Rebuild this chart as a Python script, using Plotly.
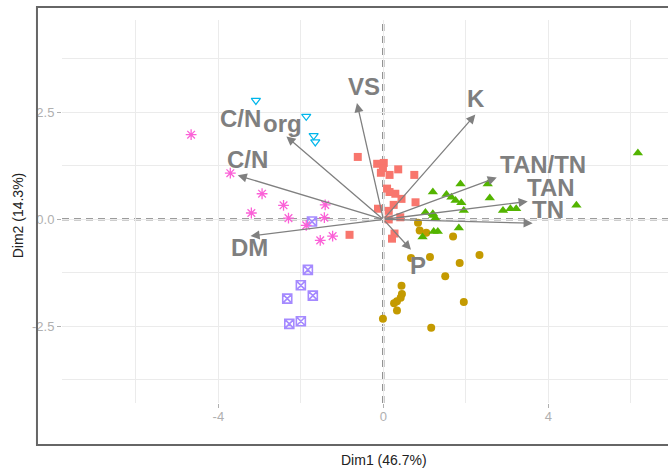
import plotly.graph_objects as go

# ---- individuals (PCA scores) per group ----
red_x = [-0.62, -0.15, 0.01, -0.01, -0.06, 0.15, 0.36, 0.75, 0.09, 0.15, 0.29, 0.44, 0.25, 0.78, -0.13, 0.13, 0.13, 0.41, -0.82, 0.27, 0.21]
red_y = [1.46, 1.30, 1.32, 1.20, 1.09, 1.04, 1.17, 1.04, 0.72, 0.64, 0.60, 0.48, 0.34, 0.40, 0.25, 0.20, 0.00, 0.05, -0.36, -0.33, -0.45]

gold_x = [0.84, 0.88, 1.04, 1.69, 0.67, 1.13, 1.85, 2.33, 1.50, 0.44, 0.45, 0.42, 0.33, 0.26, 0.33, 1.95, -0.01, 1.16]
gold_y = [-0.08, -0.26, -0.31, -0.40, -0.90, -0.88, -1.02, -0.83, -1.33, -1.55, -1.74, -1.83, -1.91, -1.96, -2.13, -1.93, -2.32, -2.53]

green_x = [1.87, 2.53, 1.20, 1.53, 1.65, 1.75, 1.89, 2.58, 1.02, 1.20, 1.95, 1.26, 2.90, 3.08, 3.22, 1.83, 0.95, 1.22, 1.32, 6.17, 4.68, 1.21]
green_y = [0.83, 0.83, 0.64, 0.58, 0.52, 0.44, 0.39, 0.50, 0.16, 0.13, 0.21, 0.03, 0.21, 0.25, 0.25, -0.20, -0.41, -0.28, -0.28, 1.55, 0.33, 0.09]

cyan_x = [-3.09, -1.87, -1.69, -1.65]
cyan_y = [2.78, 2.41, 1.96, 1.81]

purple_x = [-1.83, -2.00, -1.71, -2.33, -2.28, -2.00, -1.73]
purple_y = [-1.18, -1.54, -1.78, -1.85, -2.44, -2.38, -0.05]

magenta_x = [-4.66, -3.71, -2.94, -2.42, -3.20, -2.30, -1.41, -1.43, -1.87, -1.53, -1.23]
magenta_y = [1.98, 1.08, 0.60, 0.33, 0.15, 0.03, 0.34, 0.04, -0.14, -0.49, -0.39]

# ---- variables (loadings arrows) ----
var_names = ["VS", "K", "TAN/TN", "TAN", "TN", "P", "C/N_org", "C/N", "DM"]
var_x = [-0.64, 2.23, 2.75, 3.50, 3.62, 0.67, -2.35, -3.53, -3.22]
var_y = [2.72, 2.45, 0.98, 0.42, -0.09, -0.71, 1.94, 1.03, -0.39]

x_ticks = [-4, 0, 4]
x_ticktext = ["-4", "0", "4"]
y_ticks = [-2.5, 0, 2.5]
y_ticktext = ["-2.5", "0.0", "2.5"]

x_title = "Dim1 (46.7%)"
y_title = "Dim2 (14.3%)"

fig = go.Figure()

groups = [
    (red_x, red_y, dict(symbol="square", size=8, color="#F8766D")),
    (gold_x, gold_y, dict(symbol="circle", size=8, color="#C49A00")),
    (green_x, green_y, dict(symbol="triangle-up", size=9, color="#53B400")),
    (cyan_x, cyan_y, dict(symbol="triangle-down-open", size=8, color="#00B6EB",
                          line=dict(color="#00B6EB", width=1.2))),
    (purple_x, purple_y, dict(symbol="square-x-open", size=9, color="#A58AFF",
                              line=dict(color="#A58AFF", width=1.6))),
    (magenta_x, magenta_y, dict(symbol="asterisk-open", size=9, color="#FB61D7",
                                line=dict(color="#FB61D7", width=1.3))),
]
for gx, gy, mk in groups:
    fig.add_trace(go.Scatter(x=gx, y=gy, mode="markers", marker=mk,
                             showlegend=False, hoverinfo="skip"))

arrow_col = "#808080"
label_font = dict(family="Liberation Sans, Arial", size=24, color="#7f7f7f")

# label offsets in pixels from arrow tips
offsets = {
    "VS": (7, 17), "K": (1, 16), "TAN/TN": (46, 13), "TAN": (23, 14),
    "TN": (15, 14), "P": (7, -16), "C/N": (10, 16), "DM": (-1, -11),
}

for name, vx, vy in zip(var_names, var_x, var_y):
    fig.add_annotation(x=vx, y=vy, ax=0, ay=0, xref="x", yref="y",
                       axref="x", ayref="y", text="", showarrow=True,
                       arrowhead=2, arrowsize=1.4, arrowwidth=1.3,
                       arrowcolor=arrow_col, standoff=0, startstandoff=0)
    if name == "C/N_org":
        fig.add_annotation(x=vx, y=vy, xref="x", yref="y", text="<b>C/N</b>",
                           showarrow=False, xanchor="right", yanchor="middle",
                           xshift=-25, yshift=18, font=label_font,
                           borderpad=0, borderwidth=0)
        fig.add_annotation(x=vx, y=vy, xref="x", yref="y", text="<b>org</b>",
                           showarrow=False, xanchor="left", yanchor="middle",
                           xshift=-23, yshift=13, font=label_font,
                           borderpad=0, borderwidth=0)
    else:
        dx, dy = offsets[name]
        fig.add_annotation(x=vx, y=vy, xref="x", yref="y", text="<b>%s</b>" % name,
                           showarrow=False, xanchor="center", yanchor="middle",
                           xshift=dx, yshift=dy, font=label_font)

# dashed reference lines through the origin
fig.add_shape(type="line", xref="x", yref="paper", x0=0, x1=0, y0=0, y1=1,
              line=dict(color="#3a3a3a", width=1.8, dash="7px,5px"), layer="between")
fig.add_shape(type="line", xref="paper", yref="y", x0=0, x1=1, y0=0, y1=0,
              line=dict(color="#3a3a3a", width=1.8, dash="7px,5px"), layer="between")

# outer border
fig.add_shape(type="rect", xref="paper", yref="paper", x0=-0.0413, x1=1.2,
              y0=-0.1097, y1=1.034, line=dict(color="#666666", width=2),
              fillcolor="rgba(0,0,0,0)", layer="above")

# axis titles
fig.add_annotation(x=0.531, y=-0.149, xref="paper", yref="paper", text=x_title,
                   showarrow=False, xanchor="center", yanchor="middle",
                   font=dict(family="Liberation Sans, Arial", size=14, color="#222222"))
fig.add_annotation(x=-0.0726, y=0.49, xref="paper", yref="paper", text=y_title,
                   showarrow=False, xanchor="center", yanchor="middle", textangle=-90,
                   font=dict(family="Liberation Sans, Arial", size=14, color="#222222"))

grid_col = "#ebebeb"
tick_font = dict(family="Liberation Sans, Arial", size=13, color="#b0b0b0")

fig.update_xaxes(range=[-7.79, 6.90], tickmode="array", tickvals=x_ticks,
                 ticktext=x_ticktext, showgrid=True, gridcolor=grid_col, gridwidth=1,
                 zeroline=False, showline=False, ticks="outside", ticklen=4,
                 tickcolor="#b0b0b0", tickfont=tick_font, ticklabelstandoff=-3,
                 minor=dict(dtick=2, tick0=0, showgrid=True, gridcolor=grid_col,
                            gridwidth=0.8, ticks=""))
fig.update_yaxes(range=[-4.29, 4.66], tickmode="array", tickvals=y_ticks,
                 ticktext=y_ticktext, showgrid=True, gridcolor=grid_col, gridwidth=1,
                 zeroline=False, showline=False, ticks="outside", ticklen=4,
                 tickcolor="#b0b0b0", tickfont=tick_font,
                 minor=dict(dtick=1.25, tick0=0, showgrid=True, gridcolor=grid_col,
                            gridwidth=0.8, ticks=""))

fig.update_layout(width=668, height=468, margin=dict(l=62, r=0, t=20, b=65),
                  plot_bgcolor="white", paper_bgcolor="white", showlegend=False)

fig.write_html("out.html")
